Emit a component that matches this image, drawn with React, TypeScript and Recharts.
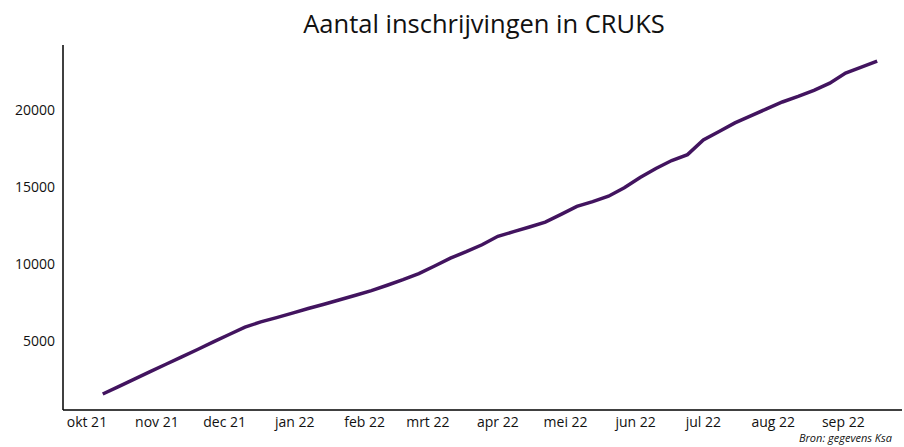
import React from "react";
import { LineChart, Line, XAxis, YAxis } from "recharts";

// days since 1 Oct 2021 (weekly observations)
const days: number[] = [
  7, 14, 21, 28, 35, 42, 49, 56, 63, 70,
  77, 84, 91, 98, 105, 112, 119, 126, 133, 140,
  147, 154, 161, 168, 175, 182, 189, 196, 203, 210,
  217, 224, 231, 238, 245, 252, 259, 266, 273, 280,
  287, 294, 301, 308, 315, 322, 329, 336, 343, 350,
];
const registrations: number[] = [
  1560, 2040, 2520, 3010, 3490, 3970, 4450, 4940, 5420, 5900,
  6240, 6520, 6810, 7110, 7390, 7680, 7970, 8270, 8620, 8980,
  9380, 9870, 10380, 10800, 11250, 11800, 12100, 12400, 12720, 13220,
  13740, 14050, 14400, 14950, 15620, 16200, 16720, 17100, 18050, 18600,
  19160, 19620, 20070, 20520, 20880, 21280, 21740, 22400, 22780, 23180,
];
const monthTicks: number[] = [0, 31, 61, 92, 123, 151, 182, 212, 243, 273, 304, 335];
const monthLabels: string[] = [
  "okt 21", "nov 21", "dec 21", "jan 22", "feb 22", "mrt 22",
  "apr 22", "mei 22", "jun 22", "jul 22", "aug 22", "sep 22",
];
const yTicks: number[] = [5000, 10000, 15000, 20000];

const data = days.map((d, i) => ({ day: d, value: registrations[i] }));

const FONT = "'Open Sans', sans-serif";

export default function App() {
  return (
    <div style={{ position: "absolute", left: 0, top: 0, width: 904, height: 447, background: "#fff", fontFamily: FONT }}>
      <div
        style={{
          position: "absolute",
          left: 0,
          width: 968,
          top: 7,
          textAlign: "center",
          fontSize: 25.5,
          fontWeight: 500,
          color: "#111",
          lineHeight: "32px",
        }}
      >
        Aantal inschrijvingen in CRUKS
      </div>
      <LineChart
        width={904}
        height={447}
        data={data}
        margin={{ top: 45, right: 2, bottom: 7, left: 0 }}
      >
        <XAxis
          dataKey="day"
          type="number"
          domain={[-10.6, 361]}
          ticks={monthTicks}
          tickFormatter={(v: number) => monthLabels[monthTicks.indexOf(v)] ?? ""}
          interval={0}
          height={30}
          tickLine={false}
          tickSize={0}
          tickMargin={7}
          axisLine={{ stroke: "#000", strokeWidth: 1.5 }}
          tick={{ fill: "#111", fontSize: 14, fontFamily: FONT }}
          allowDataOverflow
        />
        <YAxis
          type="number"
          domain={[520, 24220]}
          ticks={yTicks}
          width={63}
          tickLine={false}
          tickSize={0}
          tickMargin={8}
          axisLine={{ stroke: "#000", strokeWidth: 1.5 }}
          tick={{ fill: "#111", fontSize: 14, fontFamily: FONT }}
          allowDataOverflow
        />
        <Line
          dataKey="value"
          type="linear"
          stroke="#42145f"
          strokeWidth={3.5}
          dot={false}
          isAnimationActive={false}
        />
      </LineChart>
      <div
        style={{
          position: "absolute",
          right: 12,
          top: 430,
          fontSize: 11,
          fontStyle: "italic",
          color: "#111",
        }}
      >
        Bron: gegevens Ksa
      </div>
    </div>
  );
}
